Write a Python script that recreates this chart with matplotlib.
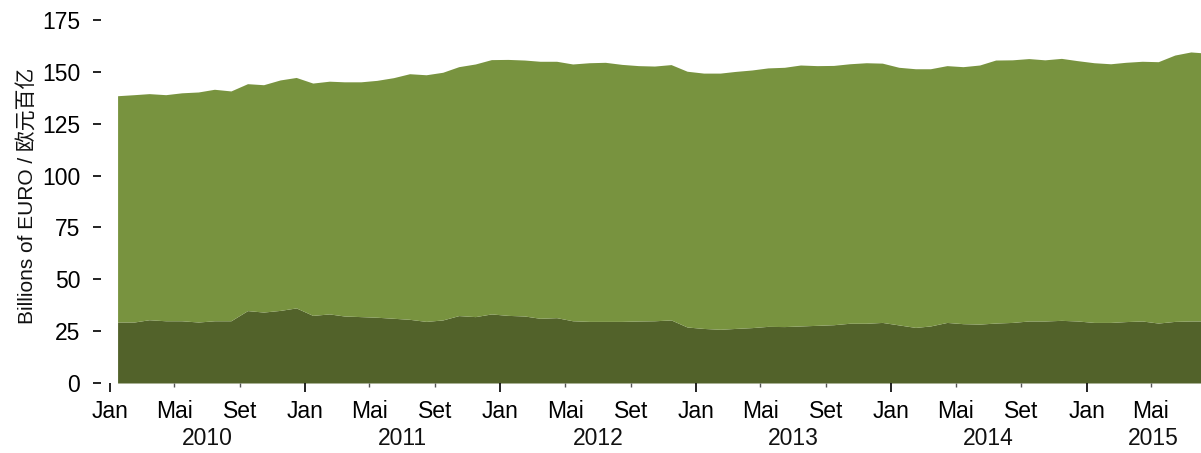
import matplotlib
matplotlib.use("Agg")
import matplotlib.pyplot as plt
import matplotlib.dates as mdates
import pandas as pd

# monthly values, Jan 2010 .. Aug 2015 (billions of euro)
start_month = "2010-01-01"
dark_vals = [
    29.4, 29.4, 30.5, 30.0, 30.0, 29.4, 30.0, 30.0, 34.9, 34.2, 35.0, 36.2,  # 2010
    32.6, 33.3, 32.3, 32.0, 31.7, 31.2, 30.7, 29.7, 30.4, 32.5, 32.0, 33.3,  # 2011
    32.6, 32.3, 31.2, 31.5, 30.0, 29.7, 29.7, 29.7, 29.9, 30.0, 30.4, 27.0,  # 2012
    26.3, 25.9, 26.3, 26.7, 27.3, 27.2, 27.5, 27.8, 28.1, 28.8, 28.8, 29.2,  # 2013
    28.0, 26.8, 27.5, 29.2, 28.6, 28.4, 28.9, 29.2, 29.9, 29.9, 30.2, 29.9,  # 2014
    29.2, 29.2, 29.6, 29.9, 28.9, 29.7, 29.9, 29.9,                          # 2015
]
total_vals = [
    138.5, 139.0, 139.5, 139.0, 139.9, 140.3, 141.6, 140.8, 144.3, 143.8, 146.1, 147.3,
    144.6, 145.5, 145.2, 145.2, 145.9, 147.2, 149.1, 148.6, 149.8, 152.5, 153.8, 155.9,
    156.0, 155.7, 155.1, 155.1, 153.8, 154.4, 154.6, 153.6, 153.0, 152.8, 153.5, 150.3,
    149.4, 149.4, 150.2, 150.9, 151.9, 152.2, 153.3, 153.0, 153.1, 153.9, 154.4, 154.2,
    152.2, 151.5, 151.5, 153.0, 152.5, 153.3, 155.7, 155.8, 156.4, 155.8, 156.5, 155.4,
    154.4, 153.9, 154.6, 155.1, 154.9, 158.1, 159.6, 159.0,
]
years = ["2010", "2011", "2012", "2013", "2014", "2015"]
month_names = {1: "Jan", 5: "Mai", 9: "Set"}

dark_col = "#52622a"
light_col = "#78933f"
font = ["Liberation Sans", "Noto Sans CJK SC"]
plt.rcParams["font.family"] = font
fs = 16.5

dates = pd.date_range(start_month, periods=len(dark_vals), freq="MS") + pd.Timedelta(days=14)

fig = plt.figure(figsize=(12.01, 4.53), dpi=100)
ax = fig.add_axes([101 / 1201, 70 / 453, 1 - 101 / 1201, 363 / 453])

ax.fill_between(dates, 0, dark_vals, color=dark_col, lw=0)
ax.fill_between(dates, dark_vals, total_vals, color=light_col, lw=0)

ax.set_xlim(pd.Timestamp("2009-12-15"), pd.Timestamp("2015-08-03"))
ax.set_ylim(0, 175)

for s in ax.spines.values():
    s.set_visible(False)

ax.set_yticks(range(0, 176, 25))
ax.tick_params(axis="y", length=6, width=1.3, pad=9, labelsize=fs, color="#111111")


def month_label(v, p):
    return month_names[mdates.num2date(v).month]


ax.xaxis.set_major_locator(mdates.MonthLocator(bymonth=[1]))
ax.xaxis.set_minor_locator(mdates.MonthLocator(bymonth=[5, 9]))
ax.xaxis.set_major_formatter(plt.FuncFormatter(month_label))
ax.xaxis.set_minor_formatter(plt.FuncFormatter(month_label))
ax.tick_params(axis="x", which="major", length=6.5, width=1.3, pad=6, labelsize=fs, color="#111111")
ax.tick_params(axis="x", which="minor", length=3, width=1.0, pad=9.5, labelsize=fs, color="#555555")

# year row under the month labels
for y in years:
    pos = pd.Timestamp(y + "-07-01")
    if y == "2015":
        pos = pd.Timestamp("2015-05-06")
    ax.text(pos, -0.152, y, transform=ax.get_xaxis_transform(), ha="center", va="center",
            fontsize=fs, color="#111111")

fig.text(27 / 1201, 1 - 196 / 453, "Billions of EURO / 欧元百亿", rotation=90,
         ha="center", va="center", fontsize=15, color="#111111", family=font)

fig.savefig("out.png", dpi=100)
